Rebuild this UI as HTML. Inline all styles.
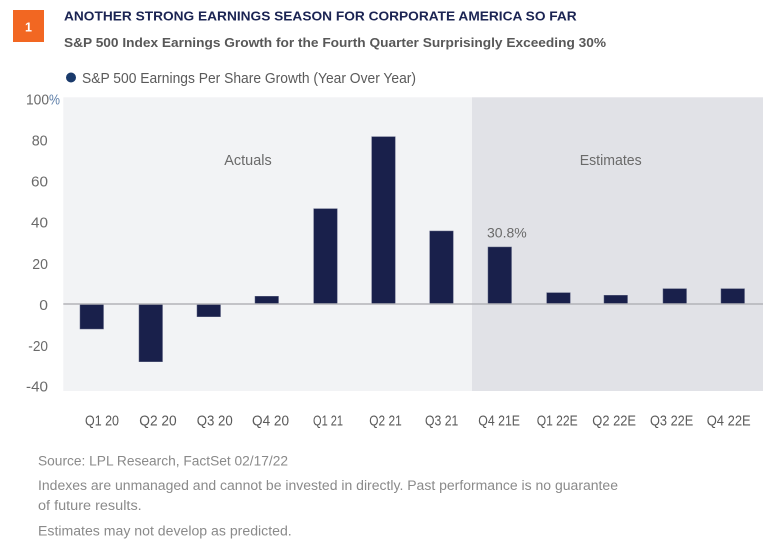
<!DOCTYPE html>
<html><head><meta charset="utf-8"><style>
html,body{margin:0;padding:0;background:#fff;}
svg{display:block;font-family:"Liberation Sans",sans-serif;}
</style></head><body>
<svg width="779" height="552" viewBox="0 0 779 552" xmlns="http://www.w3.org/2000/svg">
<rect x="0" y="0" width="779" height="552" fill="#fff"/>
<rect x="13" y="10" width="31" height="32" fill="#f26722"/>
<text x="28.5" y="31.5" font-size="12.5" font-weight="bold" fill="#fff" text-anchor="middle">1</text>
<text x="64" y="20.7" font-size="13" font-weight="bold" fill="#1b2453" textLength="512.7" lengthAdjust="spacingAndGlyphs">ANOTHER STRONG EARNINGS SEASON FOR CORPORATE AMERICA SO FAR</text>
<text x="64" y="47" font-size="13.2" font-weight="bold" fill="#585858" textLength="542" lengthAdjust="spacingAndGlyphs">S&amp;P 500 Index Earnings Growth for the Fourth Quarter Surprisingly Exceeding 30%</text>
<circle cx="71" cy="77.5" r="5" fill="#1a3a6b"/>
<text x="82" y="83" font-size="14.5" fill="#5a5a5a" textLength="334" lengthAdjust="spacingAndGlyphs">S&amp;P 500 Earnings Per Share Growth (Year Over Year)</text>

<rect x="63.3" y="97.3" width="408.7" height="293.7" fill="#f2f3f5"/>
<rect x="472" y="97.3" width="291" height="293.7" fill="#e1e2e7"/>

<text x="224.3" y="165" font-size="14.5" fill="#6a6a6a" textLength="47.4" lengthAdjust="spacingAndGlyphs">Actuals</text>
<text x="579.7" y="165" font-size="14.5" fill="#6a6a6a" textLength="62" lengthAdjust="spacingAndGlyphs">Estimates</text>
<text x="487" y="237.3" font-size="14" fill="#6a6a6a" textLength="39.7" lengthAdjust="spacingAndGlyphs">30.8%</text>

<g fill="#19204b" stroke="#5a6080" stroke-width="0.5">
<rect x="80" y="304" width="23.5" height="25"/>
<rect x="139" y="304" width="23.5" height="57.7"/>
<rect x="197" y="304" width="23.5" height="12.7"/>
<rect x="255" y="296.3" width="23.5" height="7.7"/>
<rect x="313.7" y="208.7" width="23.5" height="95.3"/>
<rect x="371.7" y="136.7" width="23.5" height="167.3"/>
<rect x="429.7" y="231" width="23.5" height="73"/>
<rect x="488" y="247" width="23.5" height="57"/>
<rect x="546.7" y="292.7" width="23.5" height="11.3"/>
<rect x="604" y="295.3" width="23.5" height="8.7"/>
<rect x="663" y="288.7" width="23.5" height="15.3"/>
<rect x="721" y="288.7" width="23.5" height="15.3"/>
</g>
<line x1="63.3" y1="304" x2="763" y2="304" stroke="#b3b3b8" stroke-width="1.5"/>

<g font-size="14.5" fill="#6a6a6a">
<text x="26" y="104.3" textLength="23" lengthAdjust="spacingAndGlyphs">100</text>
<text x="49" y="104.3" fill="#5d7ea8" textLength="11" lengthAdjust="spacingAndGlyphs">%</text>
<text x="31.7" y="145.7" textLength="16" lengthAdjust="spacingAndGlyphs">80</text>
<text x="31" y="186.7" textLength="17" lengthAdjust="spacingAndGlyphs">60</text>
<text x="31" y="227.7" textLength="17" lengthAdjust="spacingAndGlyphs">40</text>
<text x="32.3" y="269" textLength="15.7" lengthAdjust="spacingAndGlyphs">20</text>
<text x="39.3" y="310" textLength="8.7" lengthAdjust="spacingAndGlyphs">0</text>
<text x="28.3" y="351" textLength="19.7" lengthAdjust="spacingAndGlyphs">-20</text>
<text x="26" y="391.7" textLength="22" lengthAdjust="spacingAndGlyphs">-40</text>
</g>

<g font-size="14.5" fill="#5a5a5a">
<text x="85" y="425.7" textLength="34" lengthAdjust="spacingAndGlyphs">Q1 20</text>
<text x="139.3" y="425.7" textLength="37.4" lengthAdjust="spacingAndGlyphs">Q2 20</text>
<text x="196.7" y="425.7" textLength="36" lengthAdjust="spacingAndGlyphs">Q3 20</text>
<text x="252" y="425.7" textLength="37" lengthAdjust="spacingAndGlyphs">Q4 20</text>
<text x="313" y="425.7" textLength="30" lengthAdjust="spacingAndGlyphs">Q1 21</text>
<text x="369.3" y="425.7" textLength="32.4" lengthAdjust="spacingAndGlyphs">Q2 21</text>
<text x="425" y="425.7" textLength="33.3" lengthAdjust="spacingAndGlyphs">Q3 21</text>
<text x="478.3" y="425.7" textLength="41.7" lengthAdjust="spacingAndGlyphs">Q4 21E</text>
<text x="536.7" y="425.7" textLength="41" lengthAdjust="spacingAndGlyphs">Q1 22E</text>
<text x="592.3" y="425.7" textLength="43.7" lengthAdjust="spacingAndGlyphs">Q2 22E</text>
<text x="650" y="425.7" textLength="43.3" lengthAdjust="spacingAndGlyphs">Q3 22E</text>
<text x="706.7" y="425.7" textLength="44" lengthAdjust="spacingAndGlyphs">Q4 22E</text>
</g>

<g font-size="14.2" fill="#8a8a8a">
<text x="38" y="465.7" textLength="250" lengthAdjust="spacingAndGlyphs">Source: LPL Research, FactSet  02/17/22</text>
<text x="38" y="490" textLength="580" lengthAdjust="spacingAndGlyphs">Indexes are unmanaged and cannot be invested in directly. Past performance is no guarantee</text>
<text x="38" y="510" textLength="103.7" lengthAdjust="spacingAndGlyphs">of future results.</text>
<text x="38" y="535.7" textLength="253.7" lengthAdjust="spacingAndGlyphs">Estimates may not develop as predicted.</text>
</g>
</svg>
</body></html>
